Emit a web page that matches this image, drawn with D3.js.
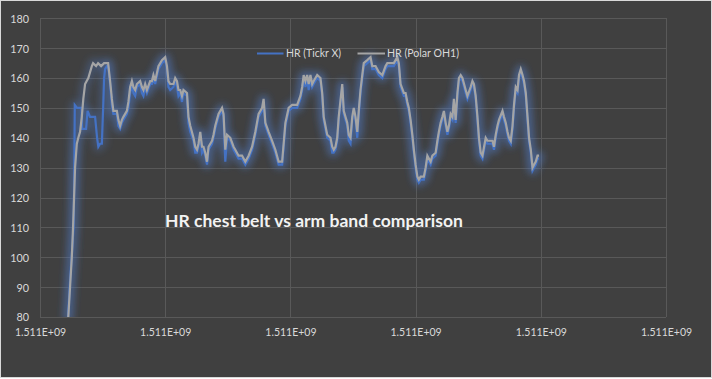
<!DOCTYPE html>
<html>
<head>
<meta charset="utf-8">
<script src="https://cdn.jsdelivr.net/npm/d3@7"></script>
<style>
  html, body { margin: 0; padding: 0; background: #ffffff; }
  svg { display: block; }
</style>
</head>
<body>
<svg id="chart" width="712" height="379"></svg>
<script>
// ---------------- DATA ----------------
const startTimestamp = 1511000000;           // seconds
const xTickOffsets = [0, 1000, 2000, 3000, 4000, 5000];
const yTicks = [80, 90, 100, 110, 120, 130, 140, 150, 160, 170, 180];
const seriesNames = ["HR (Tickr X)", "HR (Polar OH1)"];
const titleText = "HR chest belt vs arm band comparison";

// Polar OH1 (arm band): elapsed seconds and heart rate
const polarTime = [
  226,240,254,264,272,280,294,306,320,334,
  346,360,386,414,424,448,464,488,512,534,
  544,560,574,586,614,626,640,654,666,694,
  706,720,734,746,760,774,800,814,826,840,
  854,880,894,906,920,946,974,1000,1014,1026,
  1040,1066,1080,1094,1106,1120,1134,1146,1174,1186,
  1200,1226,1240,1254,1266,1280,1294,1306,1320,1334,
  1346,1374,1386,1400,1426,1440,1454,1466,1480,1494,
  1520,1546,1560,1586,1614,1640,1666,1694,1720,1746,
  1774,1786,1800,1826,1854,1880,1906,1934,1946,1960,
  1986,2014,2026,2054,2080,2094,2106,2120,2134,2146,
  2160,2174,2186,2214,2240,2254,2266,2294,2320,2334,
  2346,2360,2374,2386,2414,2426,2440,2454,2466,2480,
  2494,2506,2520,2534,2546,2560,2574,2586,2614,2640,
  2654,2680,2706,2734,2760,2774,2800,2826,2854,2866,
  2880,2906,2920,2934,2946,2960,2974,2986,3000,3014,
  3026,3040,3066,3080,3094,3120,3134,3160,3174,3186,
  3200,3214,3226,3240,3254,3266,3280,3294,3306,3320,
  3334,3346,3360,3374,3400,3414,3440,3454,3466,3480,
  3494,3506,3520,3534,3560,3574,3586,3614,3626,3640,
  3654,3666,3694,3706,3720,3734,3746,3760,3774,3786,
  3800,3814,3826,3840,3854,3866,3880,3894,3906,3920,
  3934,3946,3960,3974,3986
];
const polarHR = [
  80,90,100,110,120,130,138,140,142,147,
  153,158,160,164,165,164,165,164,165,165,
  165,159,153,149,149,146,144,146,147,149,
  152,157,159,157,156,158,159,157,156,158,
  156,159,159,161,159,164,166,167,164,159,
  158,158,160,159,156,156,154,156,155,147,
  144,140,137,136,138,142,137,137,135,132,
  137,139,141,144,148,149,150,148,136,141,
  140,137,136,134,134,132,134,137,142,148,
  150,153,145,142,139,136,132,132,138,145,
  150,151,151,151,154,157,161,159,161,158,
  161,158,159,161,160,155,147,141,140,137,
  136,137,140,147,158,149,147,145,141,140,
  147,150,147,142,149,156,161,165,166,167,
  164,164,162,161,164,165,165,165,167,165,
  158,155,155,152,150,146,141,136,131,127,
  126,127,127,130,134,132,134,135,139,142,
  145,147,149,145,142,144,148,147,153,146,
  155,160,161,160,156,154,157,159,158,154,
  147,140,135,134,140,139,139,139,137,141,
  144,146,149,147,145,142,140,139,144,151,
  157,156,161,163,161,159,155,147,140,136,
  130,131,132,134,134
];

// Tickr X (chest belt): elapsed seconds and heart rate
const tickrTime = [
  224,240,256,268,272,278,296,332,336,368,
  380,400,440,456,466,480,494,506,512,520,
  534,544,
  560,574,586,614,626,640,654,666,694,
  706,720,734,746,760,774,800,814,826,840,
  854,880,894,906,920,946,974,1000,1014,1026,
  1040,1066,1080,1094,1106,1120,1134,1146,1174,1186,
  1200,1226,1240,1254,1266,1280,1294,1306,1320,1334,
  1346,1374,1386,1400,1426,1440,1454,1466,1480,1494,
  1520,1546,1560,1586,1614,1640,1666,1694,1720,1746,
  1774,1786,1800,1826,1854,1880,1906,1934,1946,1960,
  1986,2014,2026,2054,2080,2094,2106,2120,2134,2146,
  2160,2174,2186,2214,2240,2254,2266,2294,2320,2334,
  2346,2360,2374,2386,2414,2426,2440,2454,2466,2480,
  2494,2506,2520,2534,2546,2560,2574,2586,2614,2640,
  2654,2680,2706,2734,2760,2774,2800,2826,2854,2866,
  2880,2906,2920,2934,2946,2960,2974,2986,3000,3014,
  3026,3040,3066,3080,3094,3120,3134,3160,3174,3186,
  3200,3214,3226,3240,3254,3266,3280,3294,3306,3320,
  3334,3346,3360,3374,3400,3414,3440,3454,3466,3480,
  3494,3506,3520,3534,3560,3574,3586,3614,3626,3640,
  3654,3666,3694,3706,3720,3734,3746,3760,3774,3786,
  3800,3814,3826,3840,3854,3866,3880,3894,3906,3920,
  3934,3946,3960,3974,3986
];
const tickrHR = [
  80,92,102,110,120,151,150,150,143,143,
  149,147,147,140,137,138,138,152,160,163,
  164,164,
  158,151,148,148,144,143,145,146,148,
  150,155,158,155,154,157,158,155,154,157,
  155,158,158,160,158,163,165,166,163,157,
  156,157,159,157,154,155,152,155,154,145,
  142,139,135,135,137,141,135,136,134,131,
  136,138,140,143,147,148,149,147,132,140,
  139,136,135,133,133,131,133,136,141,147,
  149,152,144,141,138,135,131,131,137,144,
  149,150,150,150,153,156,160,157,160,156,
  160,157,158,160,159,154,146,140,139,135,
  135,136,139,146,157,148,146,144,139,138,
  146,149,146,140,148,155,160,164,165,166,
  163,163,161,160,163,164,164,164,166,164,
  157,154,154,151,149,145,140,135,130,126,
  125,126,126,129,133,131,133,134,138,141,
  144,146,148,144,141,143,147,146,152,145,
  154,159,160,159,155,153,156,158,157,153,
  146,139,134,133,139,138,138,138,136,140,
  143,145,148,146,144,141,139,138,143,150,
  156,155,160,162,160,158,154,146,139,135,
  129,130,131,133,133
];

// ---------------- CHART ----------------
const W = 712, H = 379;
const plot = { left: 40, right: 666, top: 18.3, bottom: 317 };
const bg = "#404040", gridColor = "#595959", textColor = "#d9d9d9";
const blue = "#4472c4", gray = "#a5a5a5";
const font = "Lato, 'Open Sans', 'Liberation Sans', sans-serif";

const svg = d3.select("#chart");

const defs = svg.append("defs");
const glow = defs.append("filter").attr("id", "glow")
  .attr("x", "-10%").attr("y", "-10%").attr("width", "120%").attr("height", "120%");
glow.append("feGaussianBlur").attr("stdDeviation", 3.5);

// background + thin light border
svg.append("rect").attr("x", 0).attr("y", 0).attr("width", W).attr("height", H).attr("fill", "#ffffff");
svg.append("rect").attr("x", 0.5).attr("y", 0.5).attr("width", 711).attr("height", 377)
  .attr("fill", bg).attr("stroke", "#d9d9d9").attr("stroke-width", 1);

const xDomain = [startTimestamp + xTickOffsets[0], startTimestamp + xTickOffsets[xTickOffsets.length - 1]];
const x = d3.scaleLinear().domain(xDomain).range([plot.left, plot.right]);
const y = d3.scaleLinear().domain([yTicks[0], yTicks[yTicks.length - 1]]).range([plot.bottom, plot.top]);

function excelSci(v) {
  const s = v.toExponential(3);             // e.g. "1.511e+9"
  const m = s.match(/^(-?[\d.]+)e([+-])(\d+)$/);
  const exp = m[3].length < 2 ? "0" + m[3] : m[3];
  return m[1] + "E" + m[2] + exp;
}

// gridlines
const grid = svg.append("g").attr("shape-rendering", "crispEdges");
grid.selectAll("line.h").data(yTicks).join("line")
  .attr("class", "h")
  .attr("x1", plot.left).attr("x2", plot.right)
  .attr("y1", d => Math.round(y(d)) + 0.5).attr("y2", d => Math.round(y(d)) + 0.5)
  .attr("stroke", gridColor).attr("stroke-width", 1);
const xTickVals = xTickOffsets.map(o => startTimestamp + o);
grid.selectAll("line.v").data(xTickVals).join("line")
  .attr("class", "v")
  .attr("y1", plot.top).attr("y2", plot.bottom)
  .attr("x1", d => Math.round(x(d)) + 0.5).attr("x2", d => Math.round(x(d)) + 0.5)
  .attr("stroke", gridColor).attr("stroke-width", 1);

// axes (labels only, via d3 axis generators)
const yAxis = d3.axisLeft(y).tickValues(yTicks).tickSize(0).tickPadding(0).tickFormat(d3.format("d"));
const yG = svg.append("g").attr("transform", `translate(29,0)`).call(yAxis);
yG.select(".domain").remove();
yG.selectAll("text").attr("fill", textColor).attr("font-family", font).attr("font-size", 10.8)
  .attr("dy", "0.36em");

const xAxis = d3.axisBottom(x).tickValues(xTickVals).tickSize(0).tickPadding(0).tickFormat(excelSci);
const xG = svg.append("g").attr("transform", `translate(0,${plot.bottom})`).call(xAxis);
xG.select(".domain").remove();
xG.selectAll("text").attr("fill", textColor).attr("font-family", font).attr("font-size", 10.5)
  .attr("dy", null).attr("y", 18.7);

// lines
const polarData = polarTime.map((t, i) => ({ t: startTimestamp + t, v: polarHR[i] }));
const tickrData = tickrTime.map((t, i) => ({ t: startTimestamp + t, v: tickrHR[i] }));
const line = d3.line().x(d => x(d.t)).y(d => y(d.v));

const series = [
  { name: seriesNames[0], data: tickrData, color: blue },
  { name: seriesNames[1], data: polarData, color: gray }
];

const clip = defs.append("clipPath").attr("id", "plotclip");
clip.append("rect").attr("x", plot.left - 20).attr("y", plot.top - 20)
  .attr("width", plot.right - plot.left + 40).attr("height", plot.bottom - plot.top + 20);

const lines = svg.append("g").attr("clip-path", "url(#plotclip)");
series.forEach(s => {
  lines.append("path").datum(s.data).attr("d", line)
    .attr("fill", "none").attr("stroke", "#4f7cc6").attr("stroke-opacity", 0.3)
    .attr("stroke-width", 10).attr("stroke-linejoin", "round").attr("stroke-linecap", "round")
    .attr("filter", "url(#glow)");
});
series.forEach(s => {
  lines.append("path").datum(s.data).attr("d", line)
    .attr("fill", "none").attr("stroke", s.color)
    .attr("stroke-width", 2.2).attr("stroke-linejoin", "miter");
});

// legend
const legend = svg.append("g");
const legendItems = [
  { name: seriesNames[0], color: blue, x0: 257, x1: 283.5, tx: 286, w: 55 },
  { name: seriesNames[1], color: gray, x0: 357.5, x1: 385, tx: 387, w: 72 }
];
legendItems.forEach(li => {
  legend.append("line").attr("x1", li.x0).attr("x2", li.x1).attr("y1", 53.5).attr("y2", 53.5)
    .attr("stroke", li.color).attr("stroke-width", 2);
  legend.append("text").attr("x", li.tx).attr("y", 53.5).attr("dy", "0.36em")
    .attr("fill", textColor).attr("font-family", font).attr("font-size", 10.5)
    .attr("textLength", li.w).attr("lengthAdjust", "spacingAndGlyphs")
    .text(li.name);
});

// title (text box inside plot)
const title = svg.append("text").attr("x", 165).attr("y", 227)
  .attr("fill", "#f2f2f2").attr("font-family", font).attr("font-weight", "bold")
  .attr("font-size", 16).text(titleText);
const tw = title.node().getComputedTextLength();
title.attr("font-size", 16 * 298 / tw);
</script>
</body>
</html>
